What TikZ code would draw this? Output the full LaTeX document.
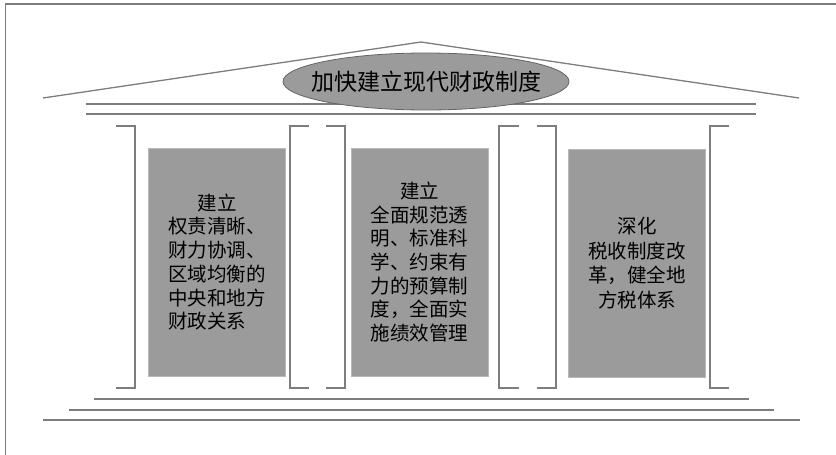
\documentclass[tikz,border=0pt]{standalone}
\usepackage{fontspec}
\newfontfamily\cjk{Noto Sans CJK SC}
\usetikzlibrary{shapes.geometric}
\definecolor{linegray}{RGB}{125,125,125}
\definecolor{boxgray}{RGB}{155,155,155}
\definecolor{boxedge}{RGB}{185,185,185}
\definecolor{ovaledge}{RGB}{100,100,100}
\tikzset{
  frameline/.style={draw=linegray, line width=1.4pt},
  roofline/.style={draw=linegray, line width=1.3pt},
  bracketline/.style={draw=linegray, line width=1.5pt},
  pillar/.style={rectangle, fill=boxgray, draw=boxedge, line width=0.8pt,
    minimum width=137pt, minimum height=228pt, inner sep=0pt, text=black},
  pillartext/.style={font=\cjk\fontsize{19.5}{23.7}\selectfont, text width=97.5pt},
}
\begin{document}
\begin{tikzpicture}[x=1pt,y=-1pt]
\useasboundingbox (0,0) rectangle (836,455);
% outer frame
\coordinate (fTL) at (5.5,4);
\coordinate (fTR) at (836,4);
\coordinate (fBL) at (5.5,455);
\draw[frameline] (fTR) -- (fTL) -- (fBL);
% roof
\coordinate (roofL) at (43,98);
\coordinate (apex) at (421,42);
\coordinate (roofR) at (799,98);
\draw[roofline] (roofL) -- (apex) -- (roofR);
\coordinate (b1L) at (86,104); \coordinate (b1R) at (756,104);
\coordinate (b2L) at (86,114); \coordinate (b2R) at (756,114);
\draw[roofline] (b1L) -- (b1R);
\draw[roofline] (b2L) -- (b2R);
% title oval
\node[ellipse, fill=boxgray, draw=ovaledge, line width=0.8pt, inner sep=0pt,
  minimum width=286pt, minimum height=57pt] (oval) at (426,81.5) {};
\node[font=\cjk\fontsize{23}{28}\selectfont, inner sep=0pt] (title) at (oval.center) {加快建立现代财政制度};
% brackets
\draw[bracketline] (116,126) -- (135,126) -- (135,388) -- (116,388);
\draw[bracketline] (309,126) -- (290,126) -- (290,388) -- (309,388);
\draw[bracketline] (326,126) -- (345,126) -- (345,388) -- (326,388);
\draw[bracketline] (519,126) -- (499,126) -- (499,388) -- (519,388);
\draw[bracketline] (537,126) -- (556,126) -- (556,388) -- (537,388);
\draw[bracketline] (729,126) -- (710,126) -- (710,388) -- (729,388);
% pillars
\node[pillar, pillartext, align=left] (p1) at (217,262)
  {\makebox[97.5pt][c]{建立}\\权责清晰、\\财力协调、\\区域均衡的\\中央和地方\\财政关系};
\node[pillar, pillartext, align=center] (p2) at (419.5,262)
  {建立\\全面规范透\\明、标准科\\学、约束有\\力的预算制\\度，全面实\\施绩效管理};
\node[pillar, pillartext, align=center, font=\cjk\fontsize{19.5}{24.6}\selectfont] (p3) at (637,263)
  {深化\\税收制度改\\革，健全地\\方税体系};
% base
\coordinate (s1L) at (94,399); \coordinate (s1R) at (749,399);
\coordinate (s2L) at (69,410); \coordinate (s2R) at (774,410);
\coordinate (s3L) at (43,420); \coordinate (s3R) at (800,420);
\draw[roofline] (s1L) -- (s1R);
\draw[roofline] (s2L) -- (s2R);
\draw[roofline, line width=1.6pt] (s3L) -- (s3R);
\end{tikzpicture}
\end{document}
